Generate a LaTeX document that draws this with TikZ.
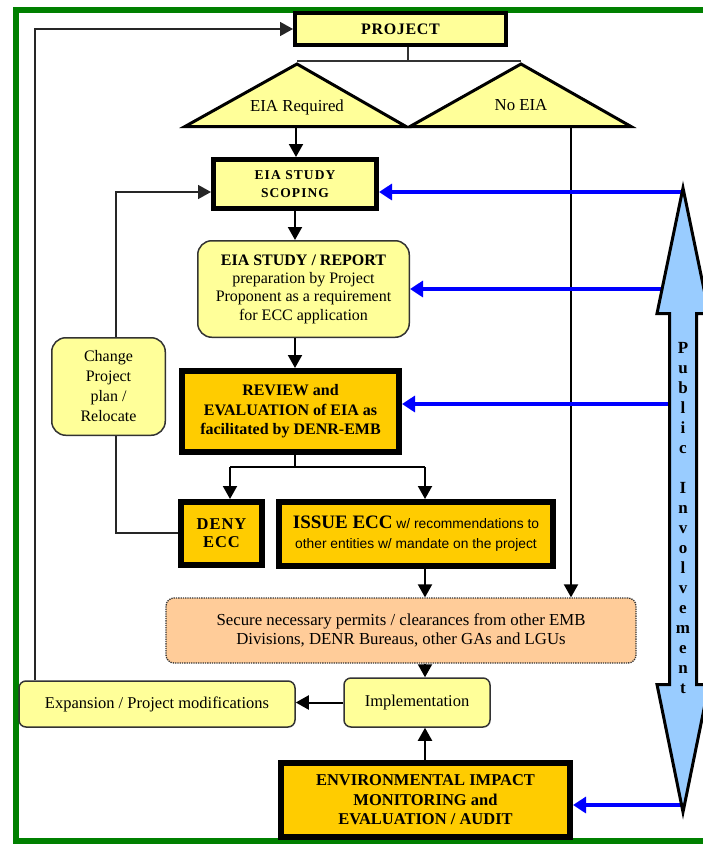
\documentclass[tikz,border=0pt]{standalone}
\usepackage{fontspec}
\setmainfont{Liberation Serif}
\newfontfamily\narrowsans{Liberation Sans}
\usetikzlibrary{arrows.meta,calc}
\definecolor{ly}{HTML}{FFFF99}
\definecolor{gold}{HTML}{FFCC00}
\definecolor{peach}{HTML}{FFCC99}
\definecolor{lblue}{HTML}{99CCFF}
\definecolor{fgreen}{HTML}{008000}
\definecolor{dgray}{HTML}{333333}
\newcommand\fz[2]{\fontsize{#1}{#2}\selectfont}
\begin{document}
\begin{tikzpicture}[x=1pt,y=-1pt,
  thickbox/.style={draw=black, inner sep=0pt, align=center},
  roundbox/.style={draw=dgray, line width=1.5pt, rounded corners=12pt, fill=ly, inner sep=0pt, align=center},
  conn/.style={line width=2pt, black},
  loopline/.style={line width=1.6pt, black!85},
  arr/.style={conn, -{Triangle[length=13pt,width=14pt]}},
  looparr/.style={loopline, -{Triangle[length=13pt,width=14pt]}},
  barr/.style={line width=4pt, blue, -{Triangle[length=13pt,width=16pt]}},
  thinline/.style={line width=1.6pt, dgray}]
\useasboundingbox (0,0) rectangle (702,846);

% green frame
\draw[fgreen, line width=6pt] (15.5,9.5) rectangle (712,841);

% feedback coordinates on the public involvement arrow
\coordinate (p1) at (683,192);
\coordinate (p2) at (666,289);
\coordinate (p3) at (669,404);
\coordinate (p4) at (682,805);

% boxes
\node[thickbox, line width=4pt, fill=ly, minimum width=211pt, minimum height=32pt,
      font=\bfseries\fz{16}{19}\addfontfeature{LetterSpace=4}] (proj) at (400.5,29) {PROJECT};

\node[thickbox, line width=5pt, fill=ly, minimum width=163pt, minimum height=49pt,
      font=\bfseries\fz{13.5}{18}\addfontfeature{LetterSpace=8}] (scop) at (295,184) {EIA STUDY\\SCOPING};

\node[roundbox, rounded corners=14pt, minimum width=211.5pt, minimum height=96.5pt,
      font=\fz{16}{18.3}] (rep) at (303.5,289)
      {{\bfseries EIA STUDY / REPORT}\\preparation by Project\\Proponent as a requirement\\for ECC application};

\node[thickbox, line width=6pt, fill=gold, minimum width=217pt, minimum height=81pt,
      font=\bfseries\fz{16}{19.5}] (rev) at (290.5,411.5)
      {REVIEW and\\EVALUATION of EIA as\\facilitated by DENR-EMB};

\node[roundbox, rounded corners=14pt, minimum width=113.5pt, minimum height=97.5pt,
      font=\fz{16}{20}] (chg) at (108.5,386.5) {Change\\Project\\plan /\\Relocate};

\node[thickbox, line width=6pt, fill=gold, minimum width=81pt, minimum height=63pt,
      font=\bfseries\fz{16.5}{18}\addfontfeature{LetterSpace=6}] (deny) at (221.5,533.5) {DENY\\ECC};

\node[thickbox, line width=6pt, fill=gold, minimum width=274pt, minimum height=64pt,
      font=\narrowsans\fz{13.8}{20}] (iss) at (416,534)
      {{\rmfamily\bfseries\fz{19}{20}ISSUE ECC} w/ recommendations to\\other entities w/ mandate on the project};

\node[draw=dgray, densely dotted, line width=1.3pt, rounded corners=8pt, fill=peach,
      minimum width=470pt, minimum height=65pt, inner sep=0pt, align=center,
      font=\fz{16.8}{19}] (sec) at (401,630.5)
      {Secure necessary permits / clearances from other EMB\\Divisions, DENR Bureaus, other GAs and LGUs};

\node[roundbox, rounded corners=7pt, minimum width=146pt, minimum height=49pt,
      font=\fz{16.5}{19}] (impl) at (417,702.5) {Implementation};

\node[roundbox, rounded corners=7pt, minimum width=276pt, minimum height=46pt,
      font=\fz{16.5}{19}] (exp) at (157,704) {Expansion / Project modifications};

\node[thickbox, line width=6pt, fill=gold, minimum width=289pt, minimum height=74pt,
      font=\bfseries\fz{16.5}{19.5}] (mon) at (425.5,800)
      {ENVIRONMENTAL IMPACT\\MONITORING and\\EVALUATION / AUDIT};

% decision triangles
\draw[line width=3pt, fill=ly, line join=miter] (185,126.5) -- (297,64) -- (406,126.5) -- cycle;
\draw[line width=3pt, fill=ly, line join=miter] (410,126.5) -- (521,64) -- (631,126.5) -- cycle;
\node[font=\fz{16.8}{19}] (treq) at (297,107) {EIA Required};
\node[font=\fz{16.8}{19}] (tno) at (521,105) {No EIA};

% connectors
\coordinate (pj) at (408,61);
\coordinate (la) at (297,61);
\coordinate (ra) at (521,61);
\draw[thinline] (proj.south -| pj) -- (pj);
\draw[thinline] (la) -- (ra);

\coordinate (lb) at (296,127);
\draw[arr] (lb) -- (lb |- scop.north);
\coordinate (rb) at (571,127);
\draw[arr] (rb) -- (rb |- sec.north);

\draw[arr] (scop.south) -- (scop.south |- rep.north);
\draw[arr] (scop.south |- rep.south) -- (scop.south |- rev.north);

\coordinate (br) at (295,467);
\coordinate (bl) at (230,467);
\coordinate (bri) at (425,467);
\draw[conn] (rev.south -| br) -- (br);
\draw[conn] (bl) -- (bri);
\draw[arr] (bl) -- (bl |- deny.north);
\draw[arr] (bri) -- (bri |- iss.north);
\draw[arr] (bri |- iss.south) -- (bri |- sec.north);
\draw[arr] (bri |- sec.south) -- (bri |- impl.north);
\draw[arr] (bri |- mon.north) -- (bri |- impl.south);
\draw[arr] (impl.west) -- (impl.west -| exp.east);

\coordinate (lp) at (35,29);
\draw[looparr] (exp.north -| lp) -- (lp) -- (proj.west);

\coordinate (cu) at (116,192);
\draw[looparr] (chg.north -| cu) -- (cu) -- (cu -| scop.west);
\coordinate (cd) at (116,533);
\draw[loopline] (chg.south -| cd) -- (cd) -- (cd -| deny.west);

% blue arrows
\draw[barr] (p1) -- (p1 -| scop.east);
\draw[barr] (p2) -- (p2 -| rep.east);
\draw[barr] (p3) -- (p3 -| rev.east);
\draw[barr] (p4) -- (p4 -| mon.east);

% public involvement double arrow
\draw[line width=3pt, fill=lblue, line join=miter]
  (683,188) -- (709,313.5) -- (696.5,313.5) -- (696.5,684.5) -- (709,684.5) -- (683,812)
  -- (657,684.5) -- (669.5,684.5) -- (669.5,313.5) -- (657,313.5) -- cycle;
\node[font=\bfseries\fz{17}{20}, align=center, inner sep=0pt, anchor=north] (pub) at (683,342)
  {P\\u\\b\\l\\i\\c\\[20pt]I\\n\\v\\o\\l\\v\\e\\m\\e\\n\\t};
\end{tikzpicture}
\end{document}
